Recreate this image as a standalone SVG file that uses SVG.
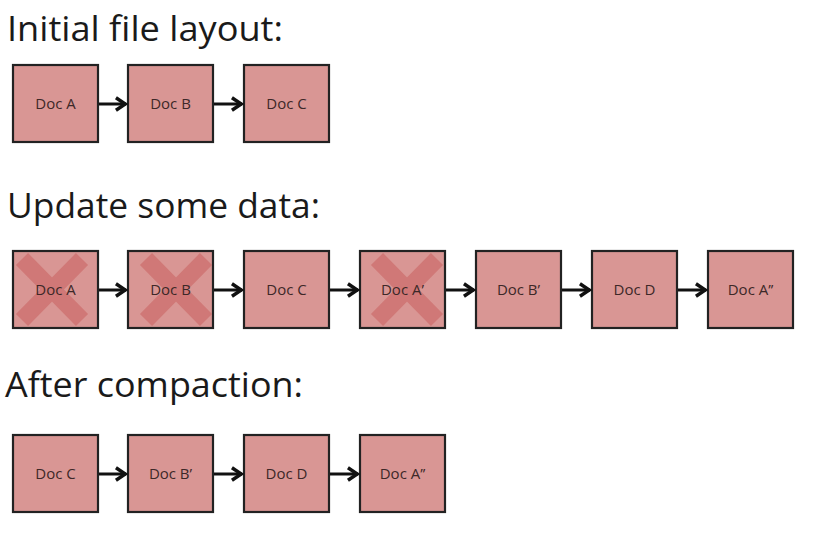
<svg xmlns="http://www.w3.org/2000/svg" width="824" height="538" viewBox="0 0 824 538">
<defs>
<style>
.title{font-family:"Open Sans","Liberation Sans",sans-serif;font-size:35px;fill:#1a1a1a;}
.box rect{fill:#d99694;stroke:#222;stroke-width:2.2;}
.box text{font-family:"Open Sans","Liberation Sans",sans-serif;font-size:15px;fill:#3d2828;text-anchor:middle;}
.x{stroke:#c8605e;stroke-opacity:0.55;stroke-width:17;stroke-linecap:butt;}
.conn line{stroke:#111;stroke-width:3;marker-end:url(#ah);}
</style>
<marker id="ah" viewBox="0 0 10 10" refX="8.6" refY="5" markerWidth="5.5" markerHeight="5.5" orient="auto" markerUnits="strokeWidth">
<path d="M2.5,1.2 L8.2,5 L2.5,8.8" fill="none" stroke="#111" stroke-width="2.1" stroke-linejoin="miter"/>
</marker>
</defs>
<rect width="824" height="538" fill="#fff"/>
<text class="title" x="7" y="41" textLength="276" lengthAdjust="spacingAndGlyphs">Initial file layout:</text>
<text class="title" x="7" y="218" textLength="313" lengthAdjust="spacingAndGlyphs">Update some data:</text>
<text class="title" x="5" y="397" textLength="298" lengthAdjust="spacingAndGlyphs">After compaction:</text>

<g id="r1a" class="box"><rect x="13" y="65" width="85" height="77"/><text x="55.5" y="109">Doc A</text></g>
<g id="r1b" class="box"><rect x="128" y="65" width="85" height="77"/><text x="170.5" y="109">Doc B</text></g>
<g id="r1c" class="box"><rect x="244" y="65" width="85" height="77"/><text x="286.5" y="109">Doc C</text></g>

<g id="r2a" class="box"><rect x="13" y="251" width="85" height="77"/><path class="x" d="M22,259 L82,320 M82,259 L22,320"/><text x="55.5" y="295">Doc A</text></g>
<g id="r2b" class="box"><rect x="128" y="251" width="85" height="77"/><path class="x" d="M146,259 L206,320 M206,259 L146,320"/><text x="170.5" y="295">Doc B</text></g>
<g id="r2c" class="box"><rect x="244" y="251" width="85" height="77"/><text x="286.5" y="295">Doc C</text></g>
<g id="r2d" class="box"><rect x="360" y="251" width="85" height="77"/><path class="x" d="M377,259 L437,320 M437,259 L377,320"/><text x="402.5" y="295">Doc A’</text></g>
<g id="r2e" class="box"><rect x="476" y="251" width="85" height="77"/><text x="518.5" y="295">Doc B’</text></g>
<g id="r2f" class="box"><rect x="592" y="251" width="85" height="77"/><text x="634.5" y="295">Doc D</text></g>
<g id="r2g" class="box"><rect x="708" y="251" width="85" height="77"/><text x="750.5" y="295">Doc A’’</text></g>

<g id="r3a" class="box"><rect x="13" y="435" width="85" height="77"/><text x="55.5" y="479">Doc C</text></g>
<g id="r3b" class="box"><rect x="128" y="435" width="85" height="77"/><text x="170.5" y="479">Doc B’</text></g>
<g id="r3c" class="box"><rect x="244" y="435" width="85" height="77"/><text x="286.5" y="479">Doc D</text></g>
<g id="r3d" class="box"><rect x="360" y="435" width="85" height="77"/><text x="402.5" y="479">Doc A’’</text></g>

<g id="connectors" class="conn">
<line x1="99" y1="104" x2="126" y2="104"/>
<line x1="214" y1="104" x2="242" y2="104"/>
<line x1="99" y1="290" x2="126" y2="290"/>
<line x1="214" y1="290" x2="242" y2="290"/>
<line x1="330" y1="290" x2="358" y2="290"/>
<line x1="446" y1="290" x2="474" y2="290"/>
<line x1="562" y1="290" x2="590" y2="290"/>
<line x1="678" y1="290" x2="706" y2="290"/>
<line x1="99" y1="474" x2="126" y2="474"/>
<line x1="214" y1="474" x2="242" y2="474"/>
<line x1="330" y1="474" x2="358" y2="474"/>
</g>
</svg>
